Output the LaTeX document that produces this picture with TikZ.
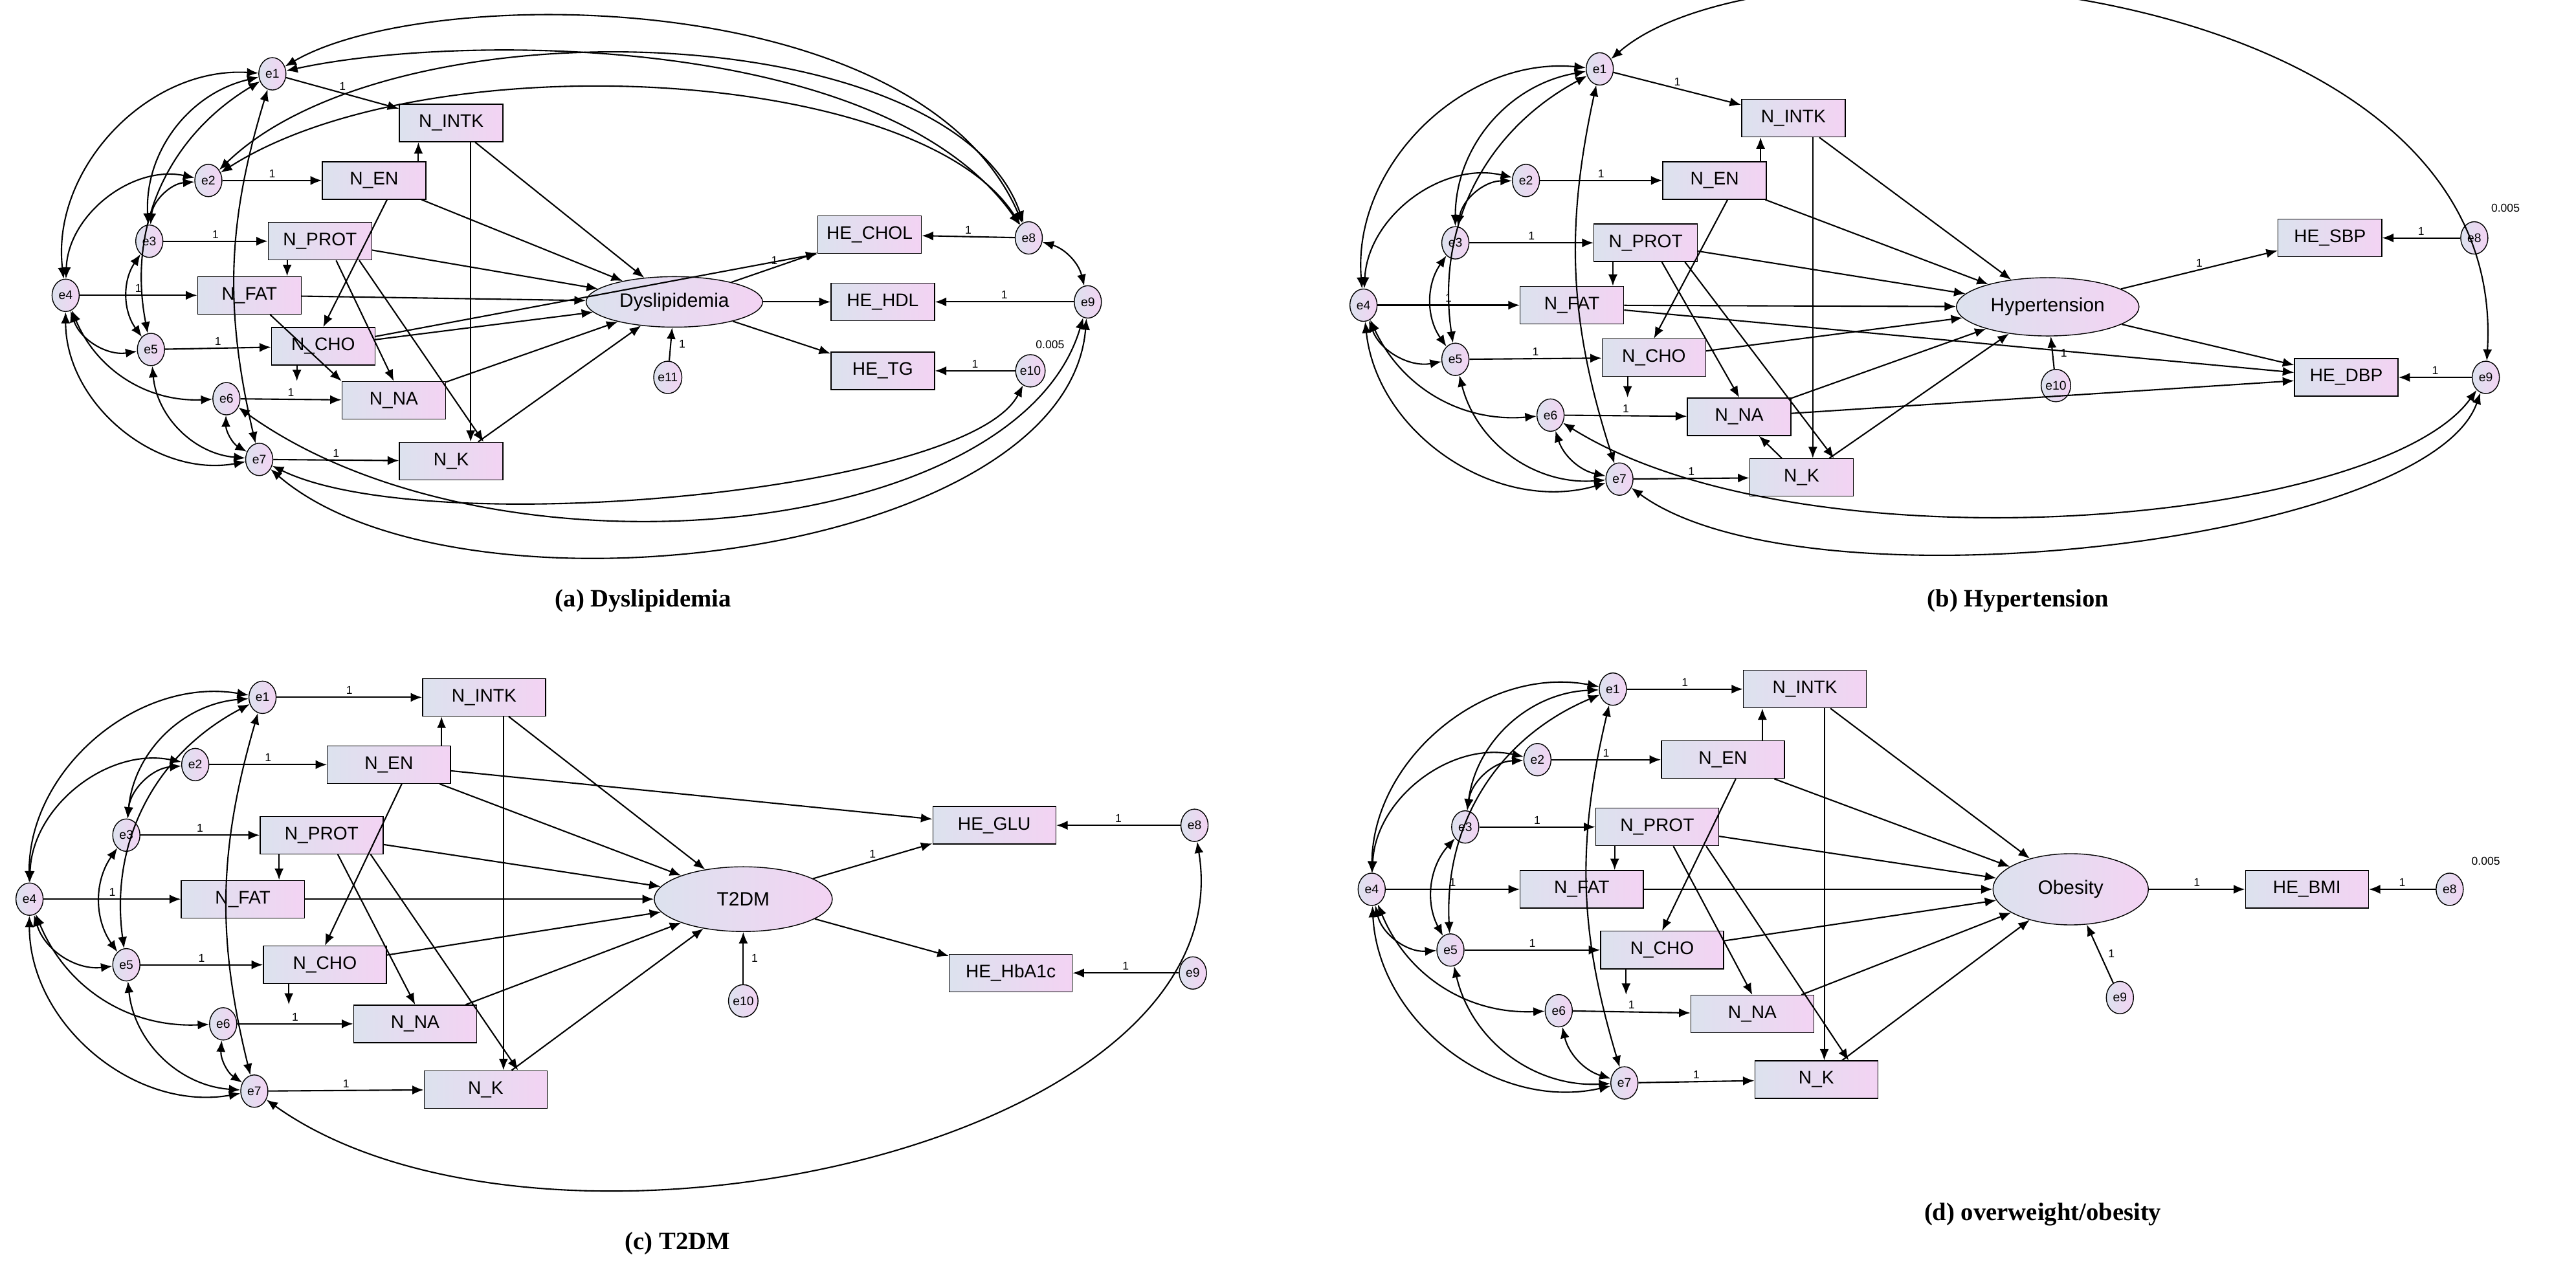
\documentclass[tikz,border=0pt]{standalone}
\usepackage{fontspec}
\setmainfont{Liberation Sans}
\newfontfamily\capfont{Liberation Serif}
\usetikzlibrary{shapes.geometric,arrows.meta}
\definecolor{bl}{HTML}{DCE2EE}
\definecolor{pk}{HTML}{F3D3F3}
\tikzset{
 box/.style={draw,rectangle,left color=bl,right color=pk,minimum width=#1,minimum height=0.58cm,font=\fontsize{8}{9}\selectfont,inner sep=1pt},
 box/.default=1.6cm,
 err/.style={draw,ellipse,left color=bl,right color=pk,minimum width=0.42cm,minimum height=0.5cm,inner sep=0pt,font=\fontsize{5.5}{6}\selectfont},
 lat/.style={draw,ellipse,left color=bl,right color=pk,font=\fontsize{8.5}{10}\selectfont},
 ar/.style={-{Latex[length=5pt,width=4pt]},line width=0.6pt},
 cov/.style={{Latex[length=5pt,width=4pt]}-{Latex[length=5pt,width=4pt]},line width=0.6pt},
 one/.style={midway,above,font=\fontsize{5}{6}\selectfont,inner sep=1pt},
 captxt/.style={font=\capfont\bfseries\fontsize{11}{13}\selectfont}
}
\newcommand{\mySEM}[2]{%
 \draw[ar] (#1e1) -- node[one]{1} (#1IN);
 \draw[ar] (#1e2) -- node[one]{1} (#1EN);
 \draw[ar] (#1e3) -- node[one]{1} (#1PR);
 \draw[ar] (#1e4) -- node[one]{1} (#1FA);
 \draw[ar] (#1e5) -- node[one]{1} (#1CH);
 \draw[ar] (#1e6) -- node[one]{1} (#1NA);
 \draw[ar] (#1e7) -- node[one]{1} (#1K);
 \foreach \n in {IN,EN,PR,FA,CH,NA,K} \draw[ar] (#1\n) -- (#1L);
 \draw[ar] ([xshift=0.3cm]#1IN.south west |- #1EN.north) -- ([xshift=0.3cm]#1IN.south west);
 \draw[ar] ([xshift=0.2cm]#1EN.south) -- (#1CH.north);
 \draw[ar] ([xshift=0.3cm]#1PR.south west) -- ([xshift=0.3cm]#1PR.south west |- #1FA.north);
 \draw[ar] ([xshift=0.25cm]#1PR.south) -- (#1NA.north);
 \draw[ar] ([xshift=-0.2cm]#1PR.south east) -- ([xshift=0.5cm]#1K.north);
 \draw[ar] ([xshift=0.3cm]#1IN.south) -- ([xshift=0.3cm]#1IN.south |- #1K.north);
 \draw[ar] ([xshift=0.4cm]#1CH.south west) -- ([xshift=0.4cm]#1CH.south west |- #1NA.north);
 \draw[ar] (#1e#2) -- node[right,font=\fontsize{5}{6}\selectfont]{1} (#1L);
 \draw[cov] (#1e1) to[bend right=50] (#1e4);
 \draw[cov] (#1e2) to[bend right=50] (#1e4);
 \draw[cov] (#1e1) to[bend right=40] (#1e3);
 \draw[cov] (#1e2) to[bend right=40] (#1e3);
 \draw[cov] (#1e1) to[bend right=35] (#1e5);
 \draw[cov] (#1e3) to[bend right=35] (#1e5);
 \draw[cov] (#1e4) to[bend right=40] (#1e5);
 \draw[cov] (#1e4) to[bend right=35] (#1e6);
 \draw[cov] (#1e4) to[bend right=50] (#1e7);
 \draw[cov] (#1e5) to[bend right=40] (#1e7);
 \draw[cov] (#1e6) to[bend right=30] (#1e7);
 \draw[cov] (#1e1) to[bend right=15] (#1e7);
}
\begin{document}
\begin{tikzpicture}[x=0.02535cm,y=-0.02535cm]
\useasboundingbox (0,0) rectangle (1570,778);
% ---------- (a)
\node[err] (ae1) at (166,45) {e1};
\node[err] (ae2) at (127,110) {e2};
\node[err] (ae3) at (91,147) {e3};
\node[err] (ae4) at (40,180) {e4};
\node[err] (ae5) at (92,213) {e5};
\node[err] (ae6) at (138,243) {e6};
\node[err] (ae7) at (158,280) {e7};
\node[box] (aIN) at (275,75) {N\_INTK};
\node[box] (aEN) at (228,110) {N\_EN};
\node[box] (aPR) at (195,147) {N\_PROT};
\node[box] (aFA) at (152,180) {N\_FAT};
\node[box] (aCH) at (197,211) {N\_CHO};
\node[box] (aNA) at (240,244) {N\_NA};
\node[box] (aK) at (275,281) {N\_K};
\node[lat,minimum width=2.3cm,minimum height=0.78cm] (aL) at (411,184) {Dyslipidemia};
\node[err] (ae11) at (407,230) {e11};
\node[box] (aC) at (530,143) {HE\_CHOL};
\node[box] (aH) at (538,184) {HE\_HDL};
\node[box] (aT) at (538,226) {HE\_TG};
\node[err] (ae8) at (627,145) {e8};
\node[err] (ae9) at (663,184) {e9};
\node[err] (ae10) at (628,226) {e10};
\node[font=\fontsize{5}{6}\selectfont] (az) at (640,210) {0.005};
\mySEM{a}{11}
\draw[ar] (aFA) -- (aNA.north west);
\draw[ar] (aL) -- node[one]{1} (aC);
\draw[ar] (aL) -- (aH);
\draw[ar] (aL) -- (aT);
\draw[ar] (aCH) -- (aC.south west);
\draw[ar] (ae8) -- node[one]{1} (aC);
\draw[ar] (ae9) -- node[one]{1} (aH);
\draw[ar] (ae10) -- node[one]{1} (aT);
\draw[cov] (ae8) to[bend left=30] (ae9);
\draw[cov] (ae1) .. controls (260,-10) and (560,-10) .. (ae8);
\draw[cov] (ae2) .. controls (240,0) and (580,10) .. (ae8);
\draw[cov] (ae1) .. controls (280,20) and (540,20) .. (ae8);
\draw[cov] (ae2) .. controls (260,25) and (560,40) .. (ae8);
\draw[cov] (ae6) .. controls (300,360) and (620,330) .. (ae9);
\draw[cov] (ae7) .. controls (280,385) and (650,340) .. (ae9);
\draw[cov] (ae7) .. controls (260,330) and (590,300) .. (ae10);
% ---------- (b)
\node[err] (be1) at (975,42) {e1};
\node[err] (be2) at (930,110) {e2};
\node[err] (be3) at (887,148) {e3};
\node[err] (be4) at (831,186) {e4};
\node[err] (be5) at (887,219) {e5};
\node[err] (be6) at (945,253) {e6};
\node[err] (be7) at (987,292) {e7};
\node[box] (bIN) at (1093,72) {N\_INTK};
\node[box] (bEN) at (1045,110) {N\_EN};
\node[box] (bPR) at (1003,148) {N\_PROT};
\node[box] (bFA) at (958,186) {N\_FAT};
\node[box] (bCH) at (1008,218) {N\_CHO};
\node[box] (bNA) at (1060,254) {N\_NA};
\node[box] (bK) at (1098,291) {N\_K};
\node[lat,minimum width=2.65cm,minimum height=0.9cm] (bL) at (1248,187) {Hypertension};
\node[err] (be10) at (1253,235) {e10};
\node[box] (bS) at (1420,145) {HE\_SBP};
\node[box] (bD) at (1430,230) {HE\_DBP};
\node[err] (be8) at (1508,145) {e8};
\node[err] (be9) at (1515,230) {e9};
\node[font=\fontsize{5}{6}\selectfont] (bz) at (1527,127) {0.005};
\mySEM{b}{10}
\draw[ar] (bK) -- (bNA);
\draw[ar] (bL) -- node[one]{1} (bS);
\draw[ar] (bL) -- (bD);
\draw[ar] (bFA) -- (bD);
\draw[ar] (bNA) -- (bD);
\draw[ar] (be8) -- node[one]{1} (bS);
\draw[ar] (be9) -- node[one]{1} (bD);
\draw[cov] (be1) .. controls (1080,-50) and (1530,-20) .. (be9);
\draw[cov] (be6) .. controls (1100,350) and (1450,320) .. (be9);
\draw[cov] (be7) .. controls (1100,375) and (1480,330) .. (be9);
% ---------- (c)
\tikzset{box/.default=1.9cm}
\node[err] (ce1) at (160,425) {e1};
\node[err] (ce2) at (119,466) {e2};
\node[err] (ce3) at (77,509) {e3};
\node[err] (ce4) at (18,548) {e4};
\node[err] (ce5) at (77,588) {e5};
\node[err] (ce6) at (136,624) {e6};
\node[err] (ce7) at (155,665) {e7};
\node[box] (cIN) at (295,425) {N\_INTK};
\node[box] (cEN) at (237,466) {N\_EN};
\node[box] (cPR) at (196,509) {N\_PROT};
\node[box] (cFA) at (148,548) {N\_FAT};
\node[box] (cCH) at (198,588) {N\_CHO};
\node[box] (cNA) at (253,624) {N\_NA};
\node[box] (cK) at (296,664) {N\_K};
\node[lat,minimum width=2.75cm,minimum height=1cm] (cL) at (453,548) {T2DM};
\node[err] (ce10) at (453,610) {e10};
\node[box] (cG) at (606,503) {HE\_GLU};
\node[box] (cA) at (616,593) {HE\_HbA1c};
\node[err] (ce8) at (728,503) {e8};
\node[err] (ce9) at (727,593) {e9};
\mySEM{c}{10}
\draw[ar] (cL) -- node[one]{1} (cG);
\draw[ar] (cL) -- (cA);
\draw[ar] (cEN) -- (cG);
\draw[ar] (ce8) -- node[one]{1} (cG);
\draw[ar] (ce9) -- node[one]{1} (cA);
\draw[cov] (ce7) .. controls (330,790) and (760,700) .. (ce8);
% ---------- (d)
\node[err] (de1) at (983,420) {e1};
\node[err] (de2) at (937,463) {e2};
\node[err] (de3) at (893,504) {e3};
\node[err] (de4) at (836,542) {e4};
\node[err] (de5) at (884,579) {e5};
\node[err] (de6) at (950,616) {e6};
\node[err] (de7) at (990,660) {e7};
\node[box] (dIN) at (1100,420) {N\_INTK};
\node[box] (dEN) at (1050,463) {N\_EN};
\node[box] (dPR) at (1010,504) {N\_PROT};
\node[box] (dFA) at (964,542) {N\_FAT};
\node[box] (dCH) at (1013,579) {N\_CHO};
\node[box] (dNA) at (1068,618) {N\_NA};
\node[box] (dK) at (1107,658) {N\_K};
\node[lat,minimum width=2.4cm,minimum height=1.1cm] (dL) at (1262,542) {Obesity};
\node[err] (de9) at (1292,608) {e9};
\node[box] (dB) at (1406,542) {HE\_BMI};
\node[err] (de8) at (1493,542) {e8};
\node[font=\fontsize{5}{6}\selectfont] (dz) at (1515,525) {0.005};
\mySEM{d}{9}
\draw[ar] (dL) -- node[one]{1} (dB);
\draw[ar] (de8) -- node[one]{1} (dB);
% captions
\node[captxt] (ca) at (392,366) {(a) Dyslipidemia};
\node[captxt] (cb) at (1230,366) {(b) Hypertension};
\node[captxt] (cc) at (413,758) {(c) T2DM};
\node[captxt] (cd) at (1245,740) {(d) overweight/obesity};
\end{tikzpicture}
\end{document}
